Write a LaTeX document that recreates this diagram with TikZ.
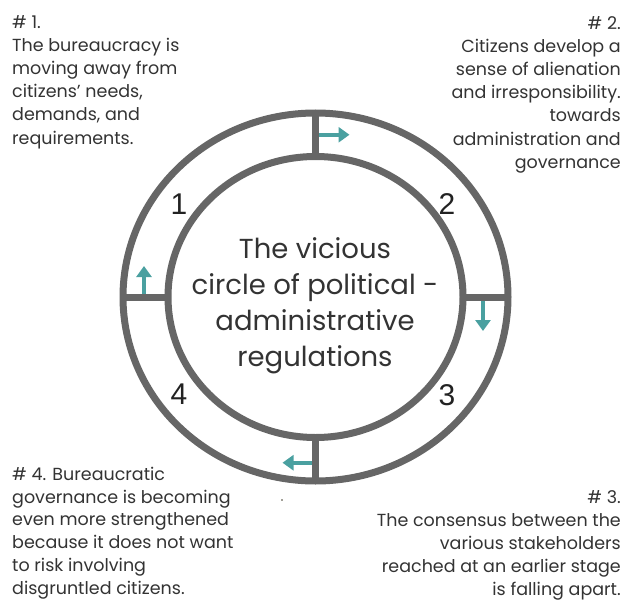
\documentclass[tikz,border=0pt]{standalone}
\usepackage{fontspec}
\setmainfont{Poppins}
\newfontfamily\digitfont{Liberation Sans}
\usetikzlibrary{arrows.meta,shapes.geometric,calc}

\definecolor{ringgray}{RGB}{102,102,102}
\definecolor{flowteal}{RGB}{74,160,160}
\definecolor{textdark}{RGB}{51,51,51}
\definecolor{digitdark}{RGB}{34,34,34}

\begin{document}
\begin{tikzpicture}[x=1pt,y=-1pt,
  ring/.style={ellipse,draw=ringgray,line width=7pt,inner sep=0pt,outer sep=0pt},
  divider/.style={draw=ringgray,line width=7pt},
  flow/.style={draw=flowteal,line width=4pt,-{Triangle[width=15pt,length=11pt]}},
  stagenum/.style={font=\digitfont\fontsize{30}{30}\selectfont,text=digitdark,inner sep=0pt},
  note/.style={font=\fontsize{17.5}{23.2}\selectfont,text=textdark,inner sep=0pt},
  tightnote/.style={note,font=\fontsize{17.5}{22.7}\selectfont},
  title/.style={font=\fontsize{27.5}{36}\selectfont,text=textdark,align=center,inner sep=0pt}]

  \useasboundingbox (0,0) rectangle (624,602);

  % the two rings
  \node[ring,minimum width=385pt,minimum height=368pt] (outer) at (315.5,297) {};
  \node[ring,minimum width=295pt,minimum height=281pt] (inner) at (315.5,297) {};

  % midpoints of the four dividers
  \coordinate (mtop) at ($(inner.north)!0.5!(outer.north)$);
  \coordinate (mright) at ($(inner.east)!0.5!(outer.east)$);
  \coordinate (mbottom) at ($(inner.south)!0.5!(outer.south)$);
  \coordinate (mleft) at ($(inner.west)!0.5!(outer.west)$);

  % direction of the cycle
  \draw[flow] (mtop) -- ++(34,0);
  \draw[flow] ($(mright)+(-2.5,0)$) -- ++(0,34);
  \draw[flow] ($(mbottom)+(0,3.5)$) -- ++(-33,0);
  \draw[flow] ($(mleft)+(-1.5,0)$) -- ++(0,-31);

  % dividers between the rings
  \draw[divider] (inner.north) -- (outer.north);
  \draw[divider] (inner.east) -- (outer.east);
  \draw[divider] (inner.south) -- (outer.south);
  \draw[divider] (inner.west) -- (outer.west);

  % stage numbers
  \node[stagenum] (n1) at (179,204) {1};
  \node[stagenum] (n2) at (447,204) {2};
  \node[stagenum] (n3) at (447,395) {3};
  \node[stagenum] (n4) at (179,394) {4};

  % centre title
  \node[title] (center) at (315,306) {The vicious\\circle of political -\\administrative\\regulations};

  % stage descriptions
  \node[note,align=left,anchor=north west] (s1) at (12,15)
    {\# 1.\\The bureaucracy is\\moving away from\\citizens' needs,\\demands, and\\requirements.};
  \node[note,align=right,anchor=north east] (s2) at (621,16)
    {\# 2.\\Citizens develop a\\sense of alienation\\and irresponsibility.\\towards\\administration and\\governance};
  \node[note,align=right,anchor=north east] (s3) at (621,490)
    {\# 3.\\The consensus between the\\various stakeholders\\reached at an earlier stage\\is falling apart.};
  \node[tightnote,align=left,anchor=north west] (s4) at (12,467)
    {\# 4. Bureaucratic\\governance is becoming\\even more strengthened\\because it does not want\\to risk involving\\disgruntled citizens.};

  % small mark below the lower divider
  \fill[black!70!olive] (282,500) circle (0.9pt);
\end{tikzpicture}
\end{document}
